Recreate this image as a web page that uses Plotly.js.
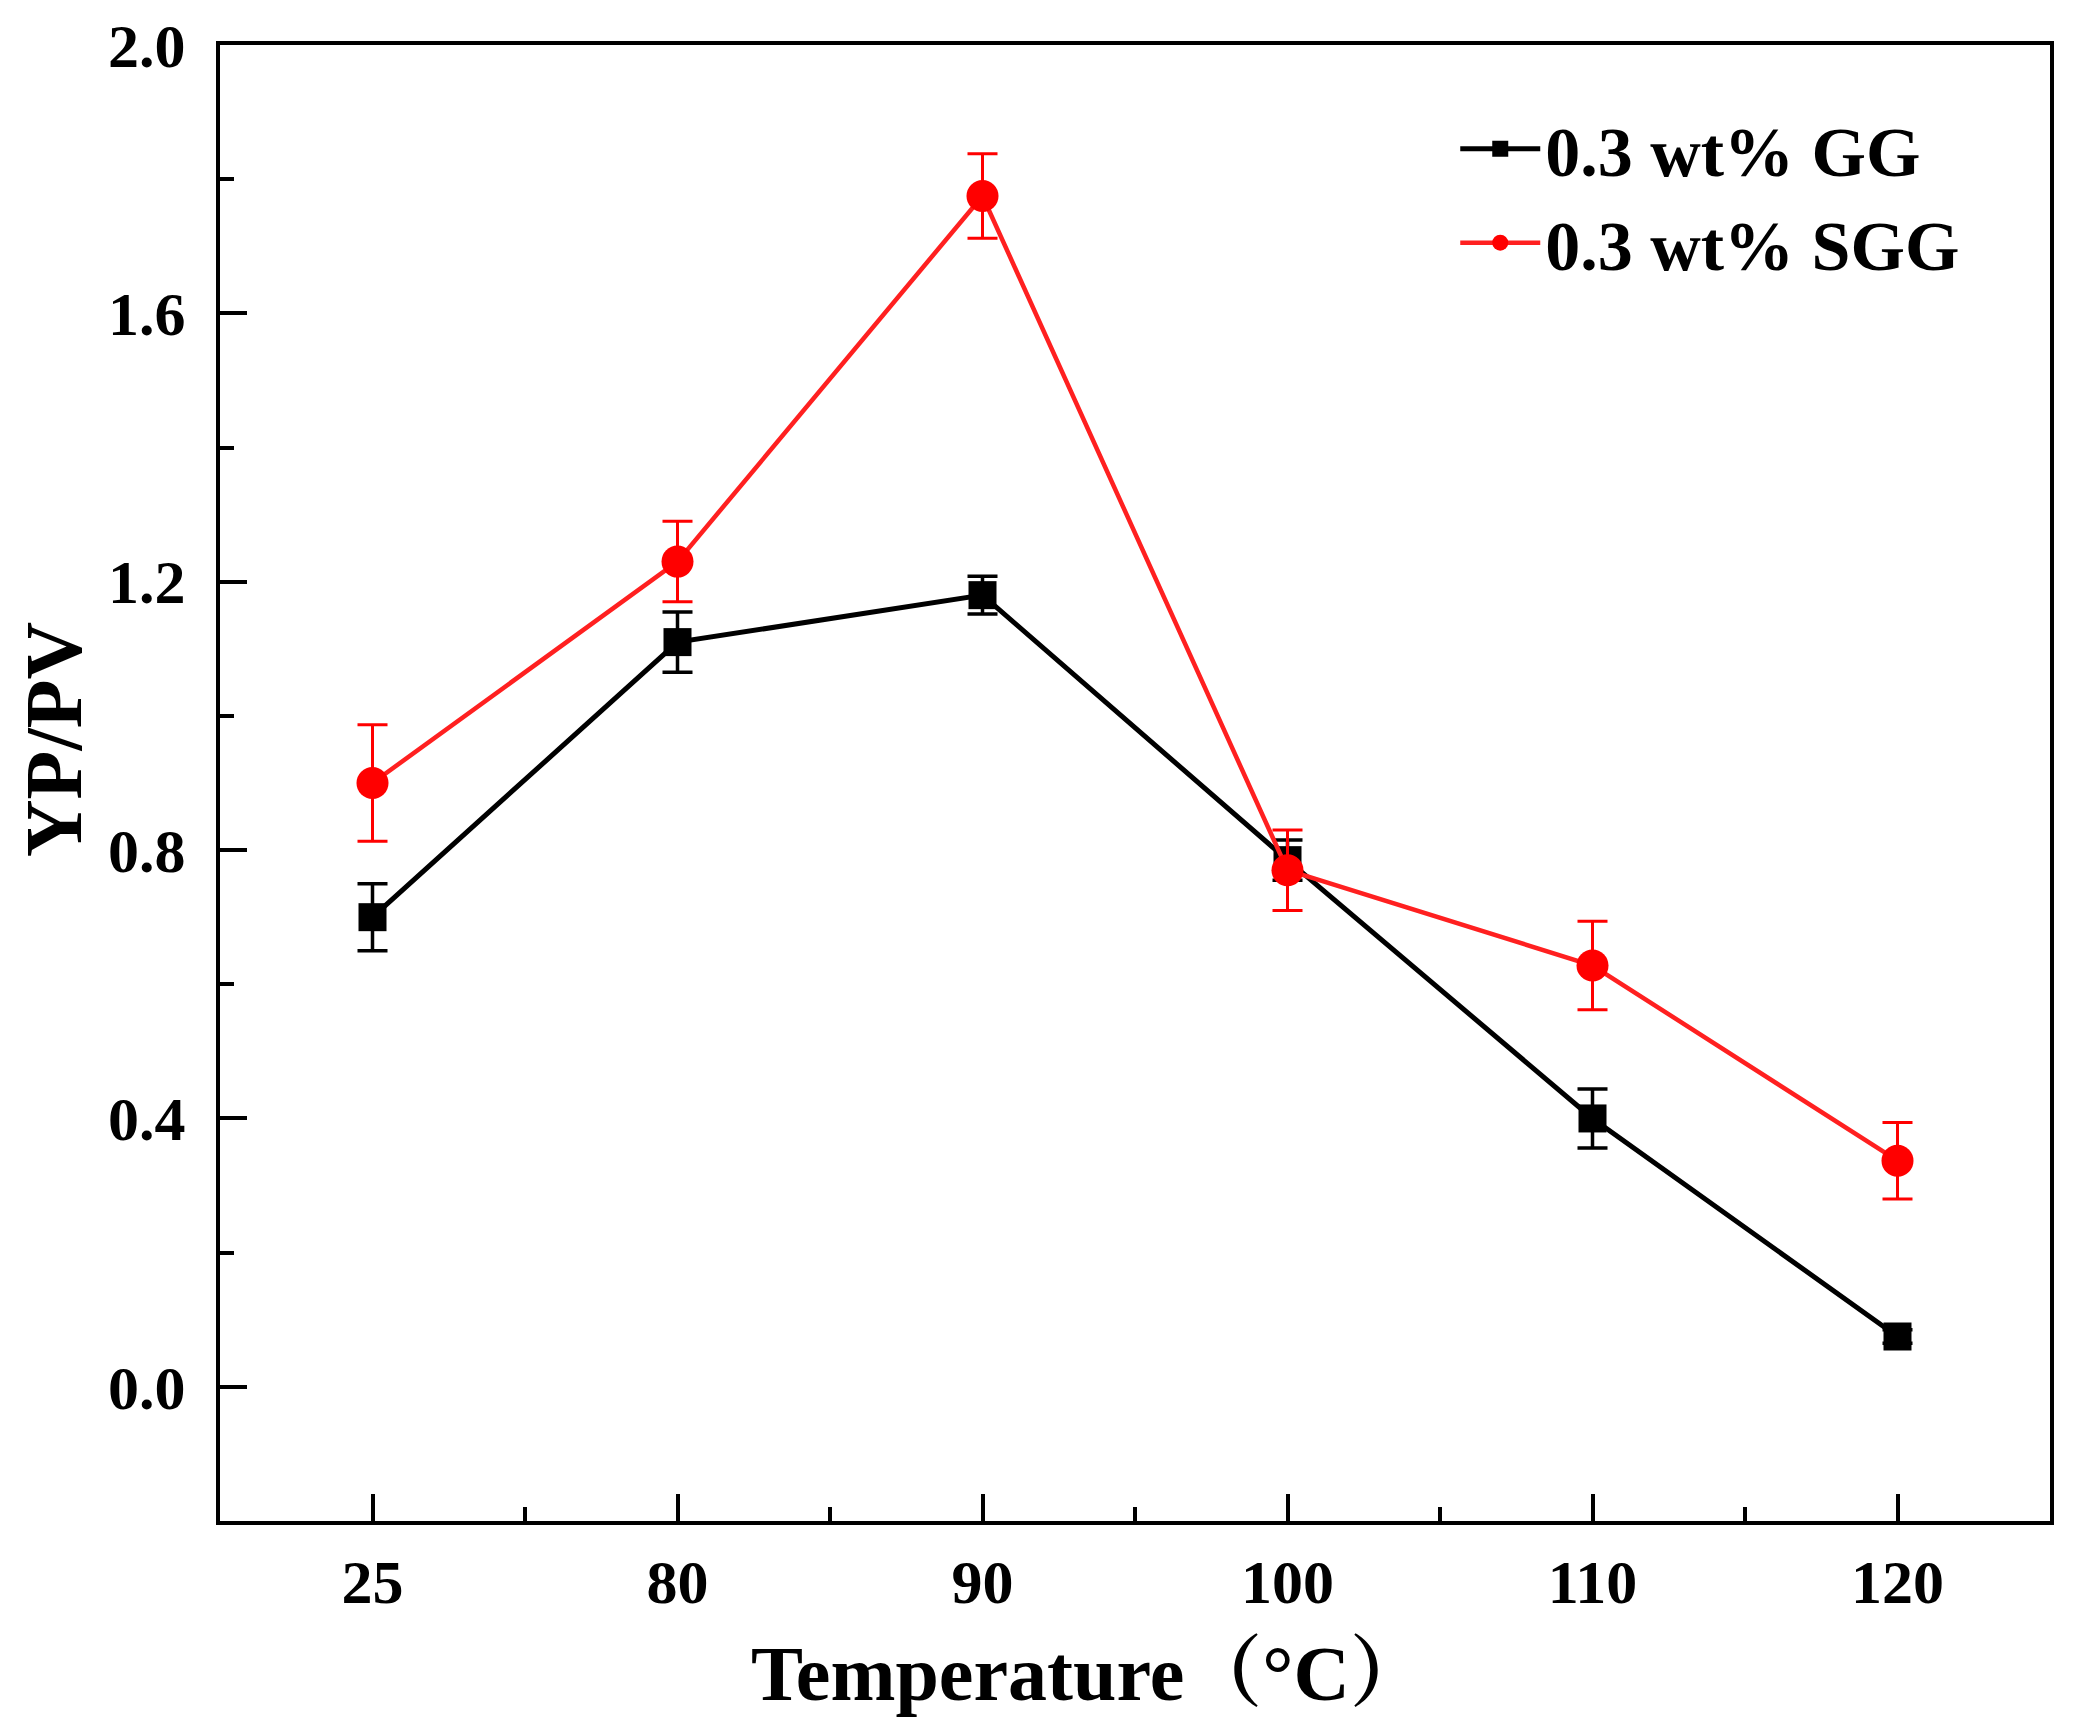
<!DOCTYPE html>
<html>
<head>
<meta charset="utf-8">
<script src="https://cdn.plot.ly/plotly-3.0.1.min.js"></script>
<style>
  html, body { margin: 0; padding: 0; background: #fff; }
  #chart { width: 2083px; height: 1734px; }
</style>
</head>
<body>
<div id="chart"></div>
<script>
// temperatures, shown as evenly spaced categories
var temps = ['25', '80', '90', '100', '110', '120'];
var pos = [0, 1, 2, 3, 4, 5];

var ggVals = [0.70, 1.11, 1.18, 0.785, 0.40, 0.075];
var ggErr = [0.05, 0.045, 0.028, 0.03, 0.044, 0.01];

var sggVals = [0.90, 1.23, 1.775, 0.77, 0.628, 0.337];
var sggErr = [0.087, 0.06, 0.063, 0.06, 0.066, 0.057];

var serif = '"Liberation Serif", "Times New Roman", "Noto Serif CJK SC", "Noto Sans CJK SC", serif';

var gg = {
    x: pos, y: ggVals,
    name: '0.3 wt% GG',
    type: 'scatter', mode: 'lines+markers',
    line: {color: '#000000', width: 5},
    marker: {symbol: 'square', size: 28, color: '#000000'},
    error_y: {type: 'data', array: ggErr, visible: true, color: '#000000', thickness: 3.5, width: 15}
};

var sgg = {
    x: pos, y: sggVals,
    name: '0.3 wt% SGG',
    type: 'scatter', mode: 'lines+markers',
    line: {color: '#ff2020', width: 4.5},
    marker: {symbol: 'circle', size: 32, color: '#ff0000'},
    error_y: {type: 'data', array: sggErr, visible: true, color: '#ff0000', thickness: 3, width: 15}
};

var layout = {
    width: 2083, height: 1734,
    margin: {l: 220, r: 33, t: 45, b: 213},
    paper_bgcolor: '#ffffff', plot_bgcolor: '#ffffff',
    font: {family: serif, color: '#000000'},
    showlegend: true,
    legend: {
        x: 0.675, y: 0.965, xanchor: 'left', yanchor: 'top',
        bgcolor: 'rgba(0,0,0,0)',
        font: {family: serif, size: 70, weight: 'bold'},
        itemwidth: 80, tracegroupgap: 10
    },
    xaxis: {
        range: [-0.5, 5.5],
        tickmode: 'array', tickvals: pos, ticktext: temps,
        ticks: 'inside', ticklen: 27, tickwidth: 4, tickcolor: '#000',
        minor: {tickmode: 'array', tickvals: [0.5, 1.5, 2.5, 3.5, 4.5], ticks: 'inside', ticklen: 14, tickwidth: 4, tickcolor: '#000'},
        showline: true, linewidth: 4, linecolor: '#000', mirror: true,
        showgrid: false, zeroline: false,
        tickfont: {family: serif, size: 62, weight: 'bold'},
        ticklabelstandoff: 4
    },
    yaxis: {
        range: [-0.2, 2.0],
        tickmode: 'linear', tick0: 0, dtick: 0.4, tickformat: '.1f',
        ticks: 'inside', ticklen: 27, tickwidth: 4, tickcolor: '#000',
        minor: {tickmode: 'linear', tick0: 0.2, dtick: 0.4, ticks: 'inside', ticklen: 14, tickwidth: 4, tickcolor: '#000'},
        showline: true, linewidth: 4, linecolor: '#000', mirror: true,
        showgrid: false, zeroline: false,
        tickfont: {family: serif, size: 62, weight: 'bold'},
        ticklabelstandoff: 18
    },
    // axis titles as annotations so they sit where the original puts them
    annotations: [
        {text: 'Temperature（°C）', xref: 'paper', yref: 'paper', x: 0.475, y: -0.103,
         xanchor: 'center', yanchor: 'middle', showarrow: false,
         font: {family: serif, size: 78, weight: 'bold'}},
        {text: 'YP/PV', xref: 'paper', yref: 'paper', x: -0.091, y: 0.53,
         xanchor: 'center', yanchor: 'middle', showarrow: false, textangle: -90,
         font: {family: serif, size: 80, weight: 'bold'}}
    ]
};

Plotly.newPlot('chart', [gg, sgg], layout, {displayModeBar: false, staticPlot: true});
</script>
</body>
</html>
